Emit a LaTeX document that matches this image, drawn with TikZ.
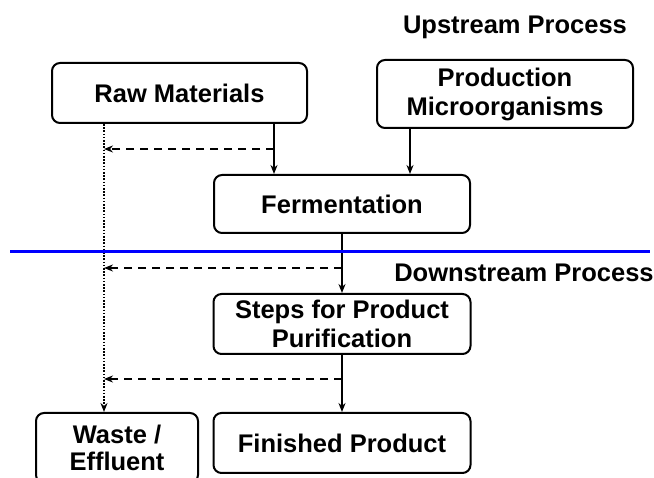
\documentclass[tikz,border=0pt]{standalone}
\usepackage{fontspec}
\setmainfont{Liberation Sans}
\usetikzlibrary{arrows.meta, positioning}

\begin{document}
\begin{tikzpicture}[x=1pt, y=-1pt,
    box/.style={rectangle, draw, line width=2pt, rounded corners=8pt, align=center,
        font=\fontsize{25.5}{29}\selectfont\bfseries, inner sep=0pt},
    label/.style={font=\fontsize{25.5}{29}\selectfont\bfseries},
    arrow/.style={-{Stealth[length=9pt, width=7pt]}, line width=1.8pt},
    dasharrow/.style={arrow, dash pattern=on 8pt off 6pt},
    dotarrow/.style={arrow, dash pattern=on 1.6pt off 1.6pt},
    divider/.style={line width=3pt, draw=blue}]

    \useasboundingbox (0,0) rectangle (654,478);
    \clip (0,0) rectangle (654,478);

    % Nodes
    \node[box, minimum width=255pt, minimum height=60pt] (raw) at (179.5,93) {Raw Materials};
    \node[box, minimum width=256pt, minimum height=68pt] (prod) at (505,94) {Production\\Microorganisms};
    \node[box, minimum width=256pt, minimum height=58pt] (ferm) at (342,204) {Fermentation};
    \node[box, minimum width=257pt, minimum height=60pt] (steps) at (342,324) {Steps for Product\\Purification};
    \node[box, minimum width=257pt, minimum height=60pt] (fin) at (342,443) {Finished Product};
    \node[box, minimum width=162pt, minimum height=70pt,
        font=\fontsize{25.5}{27}\selectfont\bfseries] (waste) at (117,448) {Waste /\\Effluent};
    \node[label] (up) at (515,27) {Upstream Process};
    \node[label] (down) at (524,273) {Downstream Process};

    % Helper coordinates
    \coordinate (wx) at (104,0);
    \coordinate (rx) at (274,0);
    \coordinate (px) at (410,0);
    \coordinate (tap1) at (274,149);
    \coordinate (tap2) at (342,268);
    \coordinate (tap3) at (342,379);
    \coordinate (lineL) at (10,252);
    \coordinate (lineR) at (650,252);

    % Arrows
    \draw[arrow] (raw.south -| rx) -- (ferm.north -| rx);
    \draw[arrow] (prod.south -| px) -- (ferm.north -| px);
    \draw[arrow] (ferm) -- (steps);
    \draw[arrow] (steps) -- (fin);
    \draw[dotarrow] (raw.south -| wx) -- (waste.north -| wx);
    \draw[dasharrow] (tap1) -- (tap1 -| wx);
    \draw[dasharrow] (tap2) -- (tap2 -| wx);
    \draw[dasharrow] (tap3) -- (tap3 -| wx);
    \draw[divider] (lineL) -- (lineR);

\end{tikzpicture}
\end{document}
